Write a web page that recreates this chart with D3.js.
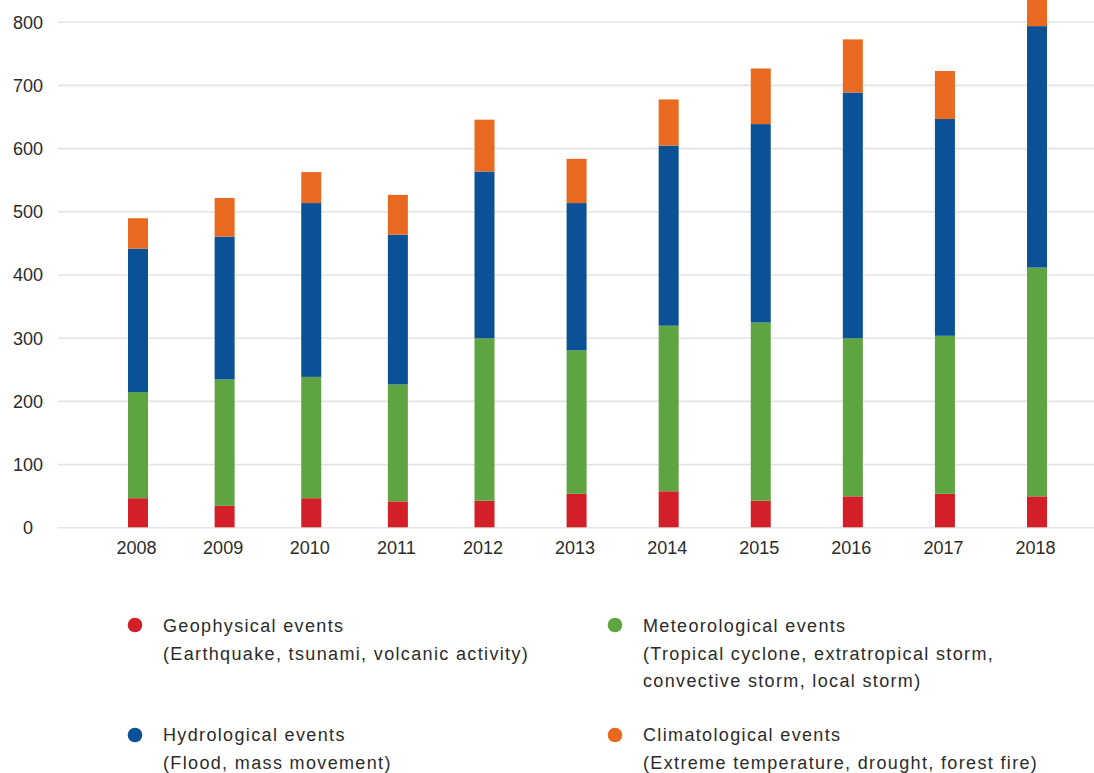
<!DOCTYPE html>
<html>
<head>
<meta charset="utf-8">
<script src="https://cdn.jsdelivr.net/npm/d3@7"></script>
<style>
  html, body { margin: 0; padding: 0; background: #ffffff; }
  svg { display: block; }
  text { font-family: "Liberation Sans", Arial, sans-serif; fill: #2b2b2b; }
</style>
</head>
<body>
<svg id="chart" width="1094" height="773"></svg>
<script>
// Number of natural loss events per year, by event family
const years = ["2008", "2009", "2010", "2011", "2012", "2013", "2014", "2015", "2016", "2017", "2018"];
const geophysical    = [46, 34, 46, 41, 42, 53, 57, 42, 49, 53, 49];
const meteorological = [168, 200, 192, 185, 257, 227, 262, 282, 250, 250, 362];
const hydrological   = [227, 226, 275, 237, 264, 233, 285, 314, 389, 343, 382];
const climatological = [48, 61, 49, 63, 82, 70, 73, 88, 84, 76, 57];
const yTicks = [0, 100, 200, 300, 400, 500, 600, 700, 800];

const seriesKeys = ["geophysical", "meteorological", "hydrological", "climatological"];
const seriesColors = ["#d21f28", "#5ea441", "#0a5196", "#e8691f"];
const legendTitles = ["Geophysical events", "Meteorological events", "Hydrological events", "Climatological events"];
const legendNotes = [
  ["(Earthquake, tsunami, volcanic activity)"],
  ["(Tropical cyclone, extratropical storm,", "convective storm, local storm)"],
  ["(Flood, mass movement)"],
  ["(Extreme temperature, drought, forest fire)"]
];

const rows = years.map((yr, i) => ({
  index: i,
  year: yr,
  geophysical: geophysical[i],
  meteorological: meteorological[i],
  hydrological: hydrological[i],
  climatological: climatological[i]
}));

const svg = d3.select("#chart");
const W = 1094;
const gridLeft = 58;

const y = d3.scaleLinear().domain([0, 800]).range([527.3, 21.7]);
// Year slots: the earlier years sit slightly closer together than the later ones
const x = d3.scaleLinear().domain([0, 4, years.length - 1]).range([138, 484.5, 1037]);
const barWidth = 20;

// Horizontal gridlines with centred value labels on the left
const yAxis = d3.axisLeft(y)
  .tickValues(yTicks)
  .tickSize(-(W - gridLeft))
  .tickPadding(gridLeft - 28)
  .tickFormat(d3.format("d"));

const gy = svg.append("g")
  .attr("transform", `translate(${gridLeft},0)`)
  .call(yAxis);
gy.select(".domain").remove();
gy.selectAll(".tick line").attr("stroke", "#e4e4e4").attr("stroke-width", 1.6);
gy.selectAll(".tick text")
  .attr("text-anchor", "middle")
  .attr("dy", "0.35em")
  .style("font-size", "18px")
  .style("fill", "#2b2b2b");

// Stacked bars
const stacked = d3.stack().keys(seriesKeys)(rows);
const color = d3.scaleOrdinal().domain(seriesKeys).range(seriesColors);

svg.append("g")
  .selectAll("g")
  .data(stacked)
  .join("g")
  .attr("fill", d => color(d.key))
  .selectAll("rect")
  .data(d => d)
  .join("rect")
  .attr("x", d => x(d.data.index) - barWidth / 2)
  .attr("width", barWidth)
  .attr("y", d => y(d[1]))
  .attr("height", d => y(d[0]) - y(d[1]));

// Year labels
const xAxis = d3.axisBottom(x)
  .tickValues(d3.range(years.length))
  .tickFormat(i => years[i])
  .tickSize(0)
  .tickPadding(0);
const gx = svg.append("g")
  .attr("transform", "translate(-2,541)")
  .call(xAxis);
gx.select(".domain").remove();
gx.selectAll(".tick text")
  .attr("y", 0)
  .attr("dy", "0.71em")
  .style("font-size", "18px")
  .style("font-family", "\"Liberation Sans\", Arial, sans-serif")
  .style("fill", "#2b2b2b");

// Legend in two columns
const legendPos = [
  { cx: 135, cy: 625, tx: 163, ty: 632 },
  { cx: 615, cy: 625, tx: 643, ty: 632 },
  { cx: 135, cy: 735, tx: 163, ty: 741 },
  { cx: 615, cy: 735, tx: 643, ty: 741 }
];
const lineGap = 27.5;

const legend = svg.append("g")
  .selectAll("g")
  .data(seriesKeys)
  .join("g");

legend.append("circle")
  .attr("cx", (d, i) => legendPos[i].cx)
  .attr("cy", (d, i) => legendPos[i].cy)
  .attr("r", 7.3)
  .attr("fill", d => color(d));

legend.each(function (d, i) {
  const p = legendPos[i];
  const t = d3.select(this).append("text")
    .attr("x", p.tx)
    .attr("y", p.ty)
    .style("font-size", "18px")
    .style("letter-spacing", "1.35px");
  t.append("tspan").attr("x", p.tx).attr("y", p.ty).text(legendTitles[i]);
  legendNotes[i].forEach((line, j) => {
    t.append("tspan").attr("x", p.tx).attr("y", p.ty + lineGap * (j + 1)).text(line);
  });
});
</script>
</body>
</html>
